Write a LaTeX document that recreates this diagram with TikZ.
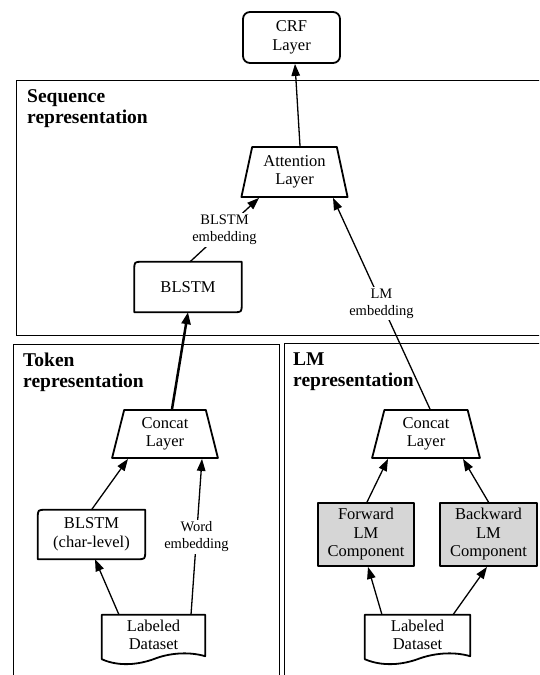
\documentclass[tikz,border=0pt]{standalone}
\usepackage{fontspec}
\setmainfont{Liberation Serif}
\usetikzlibrary{shapes.geometric,arrows.meta,calc}
\definecolor{boxgray}{HTML}{D6D6D6}
\tikzset{
  cluster/.style={draw, line width=0.9pt},
  titletext/.style={font=\bfseries\fontsize{19.5}{21}\selectfont, align=left, anchor=north west, inner sep=0pt},
  nodeline/.style={line width=1.8pt, line join=round},
  nodefont/.style={font=\fontsize{16.5}{18.5}\selectfont, align=center, inner sep=0pt},
  roundbox/.style={draw, nodeline, nodefont, rounded corners=7pt},
  plainbox/.style={nodefont, draw=none},
  graybox/.style={draw, nodeline, nodefont, fill=boxgray},
  trapbox/.style={draw, nodeline, nodefont, shape=trapezium, trapezium stretches=true},
  arr/.style={line width=1.3pt, -{Triangle[length=12pt,width=8.5pt]}},
  thickarr/.style={line width=2.5pt, -{Triangle[length=12pt,width=9pt]}},
  lbl/.style={font=\fontsize{14.5}{17}\selectfont, align=center, fill=white, inner sep=2pt},
}
\newcommand\cardpath[1]{%
  \draw[nodeline] (#1.south west) -- ([yshift=-8pt]#1.north west) .. controls (#1.north west) .. ([xshift=8pt]#1.north west)
    -- (#1.north east) -- ([yshift=8pt]#1.south east) .. controls (#1.south east) .. ([xshift=-8pt]#1.south east) -- cycle;}
\newcommand\docpath[1]{%
  \draw[nodeline] ($(#1.south west)+(0,4)$) -- (#1.north west) -- (#1.north east) -- ($(#1.south east)+(0,1)$)
    .. controls ($(#1.south east)+(-17,-4)$) and ($(#1.south east)+(-37,-2)$) .. ($(#1.south)+(0,4)$)
    .. controls ($(#1.south)+(-14,9)$) and ($(#1.south)+(-34,12)$) .. ($(#1.south west)+(0,4)$) -- cycle;}
\begin{document}
\begin{tikzpicture}[x=1pt, y=-1pt]
\useasboundingbox (0,0) rectangle (539,675);
\clip (0,0) rectangle (539,675);
\fill[white] (0,0) rectangle (539,675);

% clusters
\draw[cluster] (16.5,80) rectangle (560,335.5);
\draw[cluster] (13,344) rectangle (279,700);
\draw[cluster] (284,343.5) rectangle (560,700);
\node[titletext] (tseq) at (27,89) {Sequence\\representation};
\node[titletext] (ttok) at (23,353) {Token\\representation};
\node[titletext] (tlm) at (293,353) {LM\\representation};

% nodes
\node[roundbox, minimum width=97pt, minimum height=51pt] (crf) at (291.5,37.5) {CRF\\Layer};
\node[trapbox, minimum width=107pt, minimum height=50pt, trapezium left angle=76.5, trapezium right angle=76.5] (att) at (294.5,172) {Attention\\Layer};
\node[plainbox, minimum width=107pt, minimum height=50pt] (blstm) at (188,287) {BLSTM};
\cardpath{blstm}
\node[trapbox, minimum width=106pt, minimum height=48pt, trapezium left angle=78.2, trapezium right angle=78.2] (cc1) at (165,434) {Concat\\Layer};
\node[trapbox, minimum width=108pt, minimum height=48pt, trapezium left angle=78.2, trapezium right angle=78.2] (cc2) at (426,434) {Concat\\Layer};
\node[plainbox, minimum width=107pt, minimum height=49pt] (bc) at (91.5,534.5) {BLSTM\\(char-level)};
\cardpath{bc}
\node[graybox, minimum width=96pt, minimum height=63pt] (fw) at (366,534.5) {Forward\\LM\\Component};
\node[graybox, minimum width=97pt, minimum height=63pt] (bw) at (488.5,534.5) {Backward\\LM\\Component};
\node[plainbox, minimum width=103pt, minimum height=40pt] (ds1) at (153.5,635) {Labeled\\Dataset};
\docpath{ds1}
\node[plainbox, minimum width=105pt, minimum height=40pt] (ds2) at (417.5,635) {Labeled\\Dataset};
\docpath{ds2}

% edges
\draw[arr] ([xshift=5.5pt]att.north) -- ([xshift=3.5pt]crf.south);
\draw[arr] ([xshift=2pt]blstm.north) -- node[lbl] {BLSTM\\embedding} ([xshift=-35.5pt]att.south);
\draw[thickarr] ([xshift=7pt]cc1.north) -- (blstm.south);
\draw[arr] ([xshift=4pt]cc2.north) -- node[lbl] {LM\\embedding} ([xshift=38.5pt]att.south);
\draw[arr] (bc.north) -- ([xshift=-37pt]cc1.south);
\draw[arr] ([xshift=37.5pt]ds1.north) -- node[lbl] {Word\\embedding} ([xshift=37pt]cc1.south);
\draw[arr] ([xshift=-34.5pt]ds1.north) -- ([xshift=3.5pt]bc.south);
\draw[arr] ([xshift=1pt]fw.north) -- ([xshift=-38pt]cc2.south);
\draw[arr] (bw.north) -- ([xshift=37pt]cc2.south);
\draw[arr] ([xshift=-35.5pt]ds2.north) -- ([xshift=2pt]fw.south);
\draw[arr] ([xshift=35.5pt]ds2.north) -- ([xshift=-1.5pt]bw.south);
\end{tikzpicture}
\end{document}
